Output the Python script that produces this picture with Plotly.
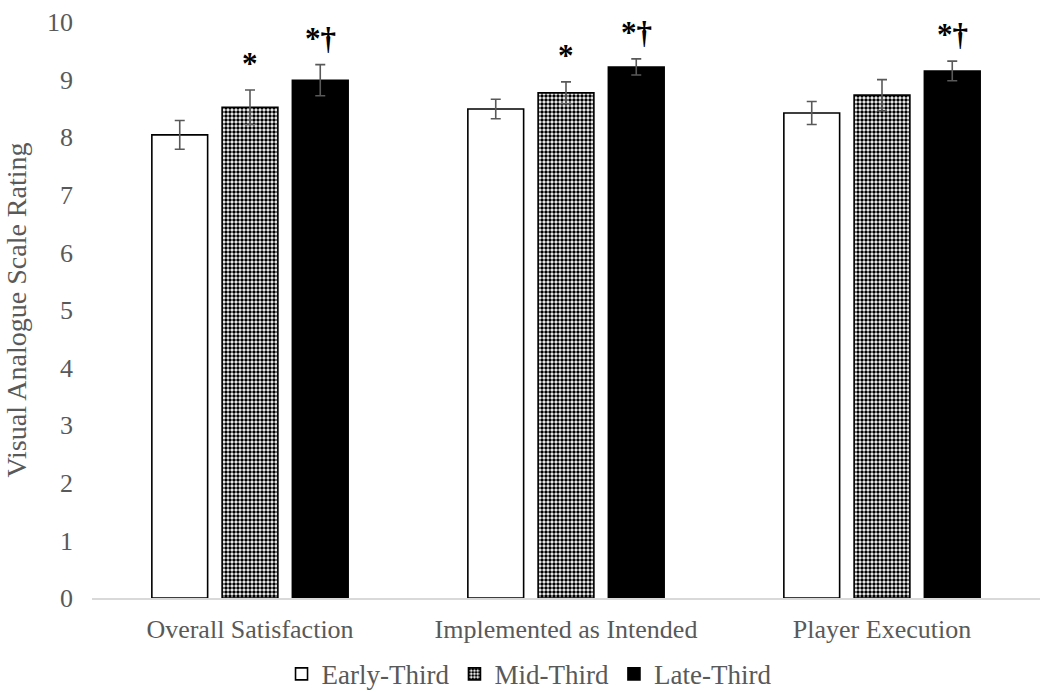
import plotly.graph_objects as go

# Rating categories and per-phase means / standard errors
categories = ["Overall Satisfaction", "Implemented as Intended", "Player Execution"]
early_mean = [8.04, 8.49, 8.42]
early_err = [0.25, 0.17, 0.20]
mid_mean = [8.52, 8.77, 8.73]
mid_err = [0.30, 0.19, 0.27]
late_mean = [8.99, 9.22, 9.15]
late_err = [0.27, 0.14, 0.17]

# Significance markers (text drawn above the Mid-Third and Late-Third bars)
mid_sig = ["*", "*", ""]
late_sig = ["*\u2020", "*\u2020", "*\u2020"]

y_ticks = list(range(0, 11))

TEXT = "#595959"
FONT = "Liberation Serif"
BARGAP = 0.333

fig = go.Figure()

err_style = dict(type="data", visible=True, color="#595959", thickness=1.6, width=5)

fig.add_trace(go.Bar(
    name="Early-Third", x=categories, y=early_mean,
    error_y=dict(array=early_err, **err_style),
    marker=dict(color="white", line=dict(color="black", width=1.6)),
))
fig.add_trace(go.Bar(
    name="Mid-Third", x=categories, y=mid_mean,
    error_y=dict(array=mid_err, **err_style),
    marker=dict(color="white", line=dict(color="black", width=1.6),
                pattern=dict(shape=".", size=4, solidity=0.6,
                             fgcolor="black", bgcolor="white", fillmode="replace")),
))
fig.add_trace(go.Bar(
    name="Late-Third", x=categories, y=late_mean,
    error_y=dict(array=late_err, **err_style),
    marker=dict(color="black", line=dict(color="black", width=1.6)),
))

# Place significance symbols above the error bars of each group
slot = (1 - BARGAP) / 3
sig_font = dict(family=FONT, size=31, color="black")
for i, cat in enumerate(categories):
    if mid_sig[i]:
        fig.add_annotation(x=i, y=mid_mean[i] + mid_err[i] + 0.12, text="<b>" + mid_sig[i] + "</b>",
                           showarrow=False, yanchor="bottom", font=sig_font)
    if late_sig[i]:
        fig.add_annotation(x=i + slot, y=late_mean[i] + late_err[i] + 0.12,
                           text="<b>" + late_sig[i] + "</b>",
                           showarrow=False, yanchor="bottom", font=sig_font)

fig.update_layout(
    width=1040, height=693,
    margin=dict(l=92, r=0, t=22, b=95, autoexpand=False),
    paper_bgcolor="white", plot_bgcolor="white",
    barmode="group", bargap=BARGAP, bargroupgap=0.206,
    font=dict(family=FONT, size=26, color=TEXT),
    showlegend=True,
    legend=dict(orientation="h", x=0.461, xanchor="center",
                y=-0.09, yanchor="top", entrywidthmode="pixels",
                font=dict(family=FONT, size=27, color=TEXT),
                itemwidth=30, tracegroupgap=0),
    xaxis=dict(range=[-0.5, 2.5], showline=True, linecolor="#d9d9d9", linewidth=1.5,
               ticks="", showgrid=False, ticklabelstandoff=7, tickangle=0,
               tickfont=dict(family=FONT, size=26, color=TEXT)),
    yaxis=dict(range=[0, 10], tickvals=y_ticks, showgrid=False, zeroline=False,
               showline=False, ticks="", ticklabelstandoff=18,
               tickfont=dict(family=FONT, size=26, color=TEXT),
               title=dict(text="Visual Analogue Scale Rating", standoff=12,
                          font=dict(family=FONT, size=28, color=TEXT))),
)

fig.write_html("out.html")
